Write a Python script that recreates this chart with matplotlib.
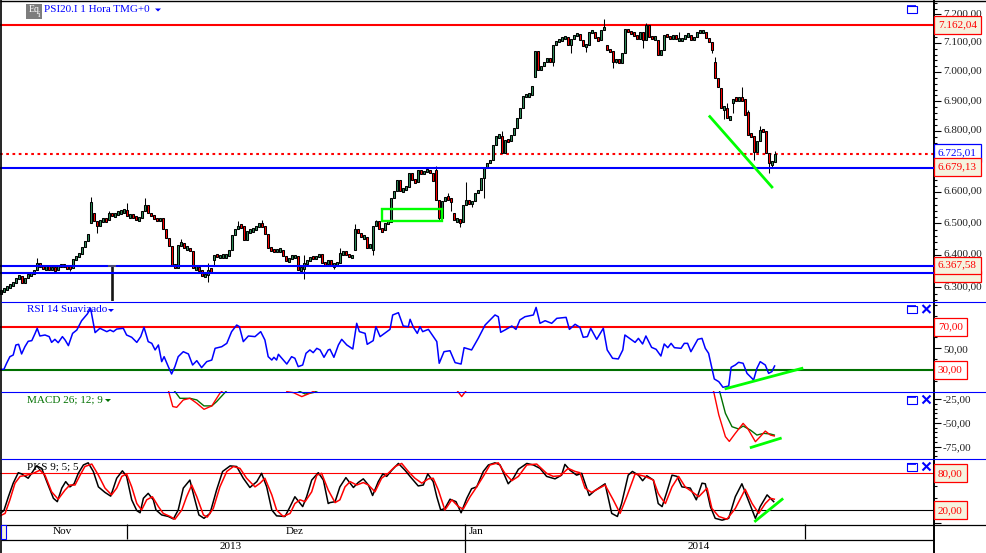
#!/usr/bin/env python3
import matplotlib
matplotlib.use("Agg")
import matplotlib.pyplot as plt
import numpy as np
from matplotlib.lines import Line2D
from matplotlib.patches import Polygon, Rectangle
from matplotlib.ticker import FixedLocator, NullFormatter
from matplotlib.transforms import ScaledTranslation

W, H = 987, 553
AXIS_X = 934

# hourly closes
closes = [
    6288, 6293, 6301, 6308, 6313, 6329, 6334, 6313, 6329, 6339,
    6342, 6355, 6375, 6365, 6360, 6362, 6357, 6360, 6355, 6365,
    6370, 6365, 6363, 6360, 6388, 6396, 6404, 6426, 6444, 6465,
    6568, 6507, 6491, 6512, 6512, 6510, 6534, 6523, 6531, 6534,
    6537, 6544, 6523, 6525, 6521, 6512, 6518, 6539, 6560, 6534,
    6523, 6518, 6507, 6518, 6481, 6454, 6428, 6370, 6360, 6433,
    6438, 6423, 6423, 6412, 6360, 6360, 6355, 6334, 6339, 6355,
    6350, 6402, 6396, 6396, 6398, 6398, 6417, 6462, 6481, 6493,
    6491, 6447, 6475, 6475, 6481, 6491, 6497, 6491, 6465, 6423,
    6417, 6412, 6417, 6417, 6396, 6381, 6391, 6396, 6396, 6355,
    6357, 6375, 6381, 6394, 6391, 6394, 6404, 6375, 6373, 6386,
    6370, 6370, 6375, 6407, 6409, 6402, 6396, 6396, 6481, 6470,
    6457, 6457, 6423, 6433, 6491, 6507, 6481, 6479, 6502, 6504,
    6581, 6603, 6641, 6603, 6611, 6617, 6662, 6641, 6632, 6673,
    6660, 6668, 6673, 6662, 6635, 6576, 6518, 6571, 6584, 6578,
    6571, 6510, 6510, 6504, 6560, 6576, 6563, 6571, 6597, 6608,
    6646, 6679, 6695, 6706, 6756, 6785, 6785, 6728, 6772, 6767,
    6789, 6811, 6844, 6877, 6919, 6922, 6922, 6951, 7071, 7008,
    7019, 7036, 7048, 7036, 7094, 7105, 7111, 7117, 7120, 7094,
    7113, 7128, 7131, 7111, 7090, 7094, 7140, 7140, 7117, 7111,
    7146, 7157, 7076, 7071, 7036, 7044, 7030, 7065, 7148, 7140,
    7134, 7128, 7113, 7140, 7111, 7163, 7122, 7117, 7117, 7059,
    7076, 7128, 7125, 7113, 7128, 7113, 7113, 7113, 7128, 7128,
    7111, 7120, 7140, 7140, 7140, 7117, 7105, 7076, 6978, 6950,
    6877, 6877, 6844, 6844, 6908, 6907, 6910, 6907, 6855, 6789,
    6785, 6730, 6767, 6805, 6800, 6728, 6695, 6697, 6725,
]
# bars that open away from the previous close
gap_opens = {
    30: 6500, 31: 6534, 71: 6386, 118: 6417, 124: 6417, 145: 6673, 151: 6533,
    178: 6983, 202: 7094, 219: 7111, 238: 7036, 240: 6944, 244: 6893, 249: 6866,
}
wick_highs = {
    12: 6391, 30: 6584, 36: 6539, 42: 6565, 48: 6581, 60: 6451, 69: 6375, 79: 6507,
    87: 6510, 101: 6402, 113: 6423, 118: 6497, 125: 6512, 145: 6686, 149: 6597,
    155: 6632, 167: 6800, 201: 7185, 215: 7170, 226: 7140, 238: 7050, 242: 6893,
    247: 6950, 249: 6870, 253: 6816, 258: 6735,
}
wick_lows = {
    23: 6350, 32: 6470, 69: 6316, 71: 6370, 101: 6326, 111: 6357, 124: 6402,
    146: 6512, 150: 6540, 153: 6488, 157: 6554, 161: 6583, 184: 7019, 190: 7067,
    195: 7070, 204: 7013, 205: 7030, 214: 7082, 219: 7059, 220: 7059, 237: 7067,
    241: 6841, 244: 6860, 251: 6706, 256: 6662, 257: 6679,
}

resistance = 7162.04
last_price = 6725.01
support_mid = 6679.13
support_low = 6367.58
support_floor = 6345

# 6.700 sits behind the value boxes, so the reference shows no label for it
price_ticks = [7200, 7100, 7000, 6900, 6800, 6600, 6500, 6400, 6300]
price_labels = ["7.200,00", "7.100,00", "7.000,00", "6.900,00", "6.800,00",
                "6.600,00", "6.500,00", "6.400,00", "6.300,00"]

rsi_points = [
    (0, 30.6), (1.3, 30.6), (2.2, 36.2), (3.3, 42.3), (4.4, 43.8), (5.3, 53.1), (6.2, 53.7), (7.2, 44.8),
    (8.3, 51.5), (9.4, 56.5), (10.6, 57.1), (11.7, 63.8), (12.4, 68.5), (13.3, 61.4), (15, 62.3), (16.4, 60.8),
    (17.2, 55.5), (18.3, 58.3), (19.4, 55.2), (20.8, 60.8), (21.7, 57.7), (22.8, 52.5), (24.2, 63.8), (25.6, 66.9),
    (27.2, 75.5), (29.1, 81.7), (30.2, 86.9), (31.7, 64.5), (33.3, 68.5), (35.6, 65.4), (36.7, 66.9), (37.8, 65.4),
    (38.9, 67.8), (41.1, 68.5), (42.2, 62.3), (43.9, 60.2), (45.6, 55.5), (46.9, 60.8), (48, 69.4), (49.4, 56.2),
    (50.6, 54.6), (51.7, 48.5), (52.8, 53.1), (53.9, 37.7), (54.7, 42.3), (56.1, 33.1), (57.2, 26.3), (58.3, 33.1),
    (59.4, 42.3), (61.1, 46.9), (62.8, 44.8), (64.2, 34.6), (65.6, 38.6), (67.2, 32.2), (68.9, 37.7), (70.6, 39.2),
    (71.7, 50), (73.9, 51.5), (75.6, 54.6), (77.2, 65.4), (78.9, 71.5), (79.8, 70), (81.1, 56.2), (82.8, 61.4),
    (85, 60.8), (86.9, 65.4), (88.3, 57.7), (89.4, 42.3), (90.6, 39.2), (91.3, 41.7), (92.2, 39.2), (92.8, 44.5),
    (95.6, 35.5), (97.2, 42.3), (98.3, 40.8), (99.4, 33.1), (100.9, 34.6), (102, 45.4), (103.3, 48.5), (104.4, 46),
    (105.6, 50), (106.7, 48.5), (108, 41.7), (109.4, 48.5),
    (110, 49.1), (111.3, 41.7), (112.8, 53.1), (113.9, 58.3), (115.6, 53.1), (117.6, 49.4), (118.9, 73.1), (119.8, 65.4),
    (121.7, 63.8), (122.4, 53.7), (124.4, 57.1), (125.3, 70), (126.7, 60.8), (130, 67.5), (130.9, 80.8), (132.8, 82.9),
    (134.4, 70.6), (136.1, 70), (136.7, 76.8), (137.8, 69.4), (139.1, 63.8), (140, 70), (140.9, 65.4), (142.8, 67.5),
    (145.6, 56.2), (146.4, 36.2), (148, 46.9), (150, 47.8), (151.7, 36.8), (153.7, 35.5), (154.7, 50.6), (157.2, 48.5),
    (159.4, 59.2), (161.7, 71.5), (165, 80.8), (166.1, 79.2), (166.9, 64.8), (168.3, 66.9), (170.6, 70.6), (172, 67.5),
    (173.3, 76.2), (175, 79.2), (177.8, 80.8), (178.7, 87.8), (180, 73.1), (181.7, 75.5), (183.9, 73.1), (185.6, 77.7),
    (188.7, 78.6), (189.8, 67.5), (191.7, 72.2), (193.3, 69.4), (194.4, 60.2), (195.8, 60.8), (196.9, 68.5), (198.9, 58.3),
    (201.1, 68.5), (202.4, 48.5), (204.2, 40.8), (206.1, 40.2), (207.6, 48.5), (208.3, 62.3), (211.7, 55.5), (212.8, 59.2),
    (214.2, 54), (215.3, 61.4), (217.2, 50.9), (218.7, 49.1),
    (220.3, 42.9), (221.4, 54), (222.6, 50.6), (223.7, 54.6), (224.8, 50.6), (227, 50), (228.1, 54.6), (229.2, 54.6),
    (230.3, 46.9), (232.6, 58.3), (234, 59.2), (235.1, 50), (236.2, 45.4), (237.3, 31.5), (238.1, 21.7), (239.6, 19.2),
    (241, 14), (242.9, 15.2), (243.7, 32.5), (245.1, 34.6), (246.2, 37.1), (247.7, 36.2), (249, 26.9), (251.2, 20.8),
    (252.3, 31.5), (253.4, 37.7), (255.1, 34.6), (256.2, 26.9), (257.3, 28.5), (258.2, 33.7),
]

# the MACD pair leaves the top of its pane, so the lines come in pieces
macd_pieces = [
    [(55.8, -12), (57.6, -32.7), (58.9, -33.5), (61.1, -25.7), (63.3, -24), (65.6, -29.2), (68, -35.6),
     (70.6, -32), (73.3, -18.7), (74.2, -15.8)],
    [(95.6, -17), (97.8, -18), (100.6, -22.2), (103.3, -18.7), (105, -15.8)],
    [(152.2, -15), (153.9, -22.2), (155.6, -15)],
    [(237.3, -12), (237.9, -17), (239.6, -41.5), (241.8, -64.4), (243.1, -69.4), (245.1, -60.9), (247.7, -50.4),
     (249.2, -55.6), (251.8, -69.7), (253.4, -64.4), (255.1, -58.5), (256.8, -62.7), (258.1, -63.7)],
]
signal_pieces = [
    [(58.1, -16), (60, -24), (63.3, -24), (65.6, -25.7), (68, -32), (70.6, -32), (72.2, -27.5), (75.6, -15.8)],
    [(99.4, -16), (101.7, -19.4), (104.4, -18), (106.1, -15.5)],
    [(239.3, -12), (239.9, -17), (241.8, -39.8), (244, -53.9), (246.2, -56.3), (247.7, -53.2), (250.1, -57.4),
     (252.3, -62.7), (254.6, -60.9), (256.8, -61.6), (258.1, -62.7)],
]

pks_k_points = [
    (0, 15), (1.3, 19.5), (2.8, 42), (4.4, 64), (6.1, 81), (7.2, 79), (9.4, 72), (11.1, 84), (12.2, 92), (13.9, 88),
    (15.6, 66.5), (17.8, 39.5), (19.1, 34), (20.6, 56), (21.9, 66.5), (23.3, 58), (24.7, 63), (26.1, 80), (27.8, 93.5),
    (29.4, 97), (31.1, 83), (32.8, 58), (35, 49), (36.9, 43), (38.9, 72), (40.8, 84), (42.2, 75), (43.9, 37), (45.6, 19.5),
    (46.7, 16), (47.8, 39.5), (49.4, 47.5), (51.1, 37), (52, 20.5), (53.9, 12.5), (56.1, 10), (57.8, 6), (59.4, 20.5),
    (61.1, 56), (63.3, 69), (64.7, 42), (66.3, 12.5), (68, 7), (70, 15), (72.2, 53), (74.2, 83), (76.7, 92), (78.9, 91),
    (81.1, 72), (83.3, 57), (85.6, 66.5), (87.2, 80), (88.9, 58), (90.6, 20.5), (92.2, 11), (95, 10), (96.7, 26), (98.3, 42),
    (100.9, 26), (102.2, 42), (103.9, 69), (106.1, 81), (107.8, 69), (109.4, 31),
    (110, 32.5), (111.7, 34), (113.3, 58), (115.3, 73), (117.8, 57), (119.4, 65), (121.1, 71), (122.8, 61), (124.2, 44),
    (126.1, 66.5), (127.6, 79), (128.9, 75), (130.6, 85), (132.8, 96), (135, 85), (137.2, 72), (139.4, 59.5), (141.1, 61),
    (142.6, 79), (144.4, 66.5), (145.6, 42), (146.9, 20.5), (148.3, 23), (150, 38), (152, 34), (153.7, 16), (155.6, 39.5),
    (157.2, 55), (158.9, 58), (161.1, 83), (162.8, 93.5), (165, 97), (166.7, 93.5), (169.4, 63), (171.1, 72), (172.8, 86.5),
    (175.6, 96), (177.8, 93.5), (180, 88), (182.2, 75), (185, 71), (187.2, 77), (188.3, 94.5), (190, 85), (192.2, 77),
    (193.9, 80), (196.4, 44), (198.3, 52), (201.7, 63), (203.9, 15), (205.8, 10), (207.2, 31), (209.4, 77), (210.8, 83),
    (212.8, 77), (214.2, 68), (215.6, 76), (217.8, 69), (219.4, 31),
    (220.7, 26), (222.3, 50), (224, 77), (225.7, 75), (227.3, 58), (230.1, 56), (232.1, 37), (234, 64), (235.1, 63),
    (236.8, 26), (238.4, 7), (240.7, 4), (242.9, 7), (245.1, 42), (247.3, 63), (249, 42), (251.8, 7), (253.4, 26),
    (255.7, 45), (257.9, 34),
]
pks_d_points = [
    (0, 11), (1.7, 15), (3.3, 37), (5, 64), (6.7, 75), (8.9, 77), (11.1, 80), (13.3, 85), (15, 77), (17.2, 50), (19.4, 38),
    (21.7, 53), (23.3, 61), (25, 61), (26.7, 77), (28.3, 91), (30.6, 95), (32.8, 77), (35, 56), (37.2, 45), (38.9, 56),
    (40.6, 75), (42.2, 79), (43.9, 58), (45.6, 31), (47.2, 20.5), (48.9, 37), (50.8, 42), (52.8, 26), (54.4, 15), (56.7, 10),
    (58.3, 5.5), (60.6, 20.5), (62.2, 42), (63.9, 61), (65.6, 42), (67.8, 12.5), (69.1, 9), (71.1, 23), (73.3, 58), (75.6, 83),
    (77.8, 91), (80, 88), (82.2, 72), (85, 58), (86.7, 64), (88.3, 72), (90.6, 45), (92.2, 20.5), (94.4, 10), (96.7, 15),
    (98.3, 31), (100, 37), (101.7, 34), (103.9, 50), (105.6, 77), (107.2, 80), (109.4, 53),
    (110, 47.5), (111.7, 32.5), (113.3, 37), (115, 58), (116.7, 66.5), (118.9, 61), (121.1, 65), (122.8, 61), (125, 50),
    (127.2, 72), (129.4, 80), (131.7, 91), (133.9, 96), (136.1, 83), (138.3, 72), (140.6, 64), (142.8, 71), (144.4, 72),
    (146.1, 53), (148.3, 20.5), (150.6, 37), (152.8, 26), (154.4, 22), (156.7, 42), (158.9, 58), (161.1, 75), (163.3, 93.5),
    (166.1, 97), (168.3, 80), (170.6, 68), (172.8, 75), (175.6, 93.5), (178.9, 95), (182.2, 80), (184.4, 75), (186.7, 76),
    (189.4, 88), (191.7, 83), (193.3, 81), (195, 56), (197.2, 49), (201.7, 61), (204.4, 37), (206.7, 15), (208.9, 42),
    (211.7, 79), (215, 75), (217.8, 69), (219.4, 47.5),
    (220.1, 42), (221.8, 31), (224, 58), (226.2, 75), (228.4, 58), (230.7, 50), (232.9, 42), (235.7, 56), (237.3, 23),
    (239.6, 10), (242.3, 5.5), (245.1, 23), (248.4, 54), (250.7, 31), (252.9, 15), (255.1, 31), (256.8, 39.5), (258.1, 38),
]

# hand-drawn annotations, in bar / value units
price_box = [(127.2, 6509), (147.3, 6546)]
price_trend = [(236.6, 6849), (257.3, 6617)]
rsi_trend = [(242, 12.8), (267.3, 31.5)]
macd_trend = [(250.4, -75.7), (260.1, -66.2)]
pks_trend = [(251.8, 2.7), (260.7, 37.8)]

month_labels = ["Nov", "Dez", "Jan"]
year_labels = ["2013", "2014"]

BLUE = "#0000ff"
RED = "#ff0000"
LIME = "#00ff00"
DARK_GREEN = "#007000"
CANDLE_GREEN = "#2e8b57"
CREAM = "#f5f3df"
FONT = "Liberation Serif"
MIN_BODY = 12  # thinnest candle body, in index points

plt.rcParams["font.family"] = FONT
plt.rcParams["font.size"] = 8

fig = plt.figure(figsize=(W / 100, H / 100), dpi=100, facecolor="white")


def fx(x):
    return x / W


def fy(y):
    return 1 - y / H


def add_line(x0, y0, x1, y1, color="black", lw=0.8):
    fig.add_artist(Line2D([fx(x0), fx(x1)], [fy(y0), fy(y1)], color=color, lw=lw, zorder=6,
                          transform=fig.transFigure, solid_capstyle="butt"))


def add_text(x, y, s, color="black", ha="left", size=8):
    fig.text(fx(x), fy(y), s, color=color, ha=ha, va="center", size=size, zorder=9)


def add_triangle(x, y, color):
    fig.add_artist(Polygon([(fx(x - 3), fy(y - 1.5)), (fx(x + 3), fy(y - 1.5)), (fx(x), fy(y + 1.5))],
                           closed=True, facecolor=color, edgecolor="none", transform=fig.transFigure, zorder=9))


def add_pane(top, bottom, ylim):
    ax = fig.add_axes([0, fy(bottom), AXIS_X / W, (bottom - top) / H])
    ax.set_xlim(0, AXIS_X / 3)
    ax.patch.set_alpha(0)
    for side in ["top", "left", "bottom"]:
        ax.spines[side].set_visible(False)
    ax.spines["right"].set_linewidth(1.4)
    ax.set_xticks([])
    ax.yaxis.tick_right()
    ax.tick_params(axis="y", which="major", length=5, width=0.8, pad=1.5, labelsize=8, labelcolor="#202020")
    ax.tick_params(axis="y", which="minor", length=2.5, width=0.8)
    ax.set_ylim(*ylim)
    return ax


def value_box(ax, value, text, edge, face, right=981, half_up=9, half_down=9, zorder=7):
    # label box on the right axis, pinned to the value it names
    y = H - ax.transData.transform((0, value))[1]
    fig.add_artist(Rectangle((fx(AXIS_X), fy(y + half_down)), (right - AXIS_X) / W, (half_up + half_down) / H,
                             facecolor=face, edgecolor=edge, lw=0.9, transform=fig.transFigure, zorder=zorder))
    if text:
        fig.text(fx(AXIS_X + 4), fy(y + (half_down - half_up) / 2), text, color=edge, ha="left", va="center",
                 size=8, zorder=zorder + 0.5)


def window_icon(top, close_button=True):
    fig.add_artist(Rectangle((fx(906.5), fy(top + 8)), 10 / W, 7.5 / H, facecolor="none", edgecolor=BLUE,
                             lw=0.8, transform=fig.transFigure, zorder=8))
    add_line(906.5, top + 1, 916.5, top + 1, BLUE, 1.2)
    if close_button:
        add_line(922.5, top, 930.5, top + 8, BLUE, 1.5)
        add_line(922.5, top + 8, 930.5, top, BLUE, 1.5)


# price pane
ax_price = add_pane(0, 301, (6258, 7251))
ax_price.set_yscale("log")
ax_price.set_ylim(6258, 7251)
ax_price.yaxis.set_major_locator(FixedLocator(price_ticks))
ax_price.yaxis.set_major_formatter(plt.FixedFormatter(price_labels))
ax_price.yaxis.set_minor_locator(FixedLocator(np.arange(6260, 7250, 20)))
ax_price.yaxis.set_minor_formatter(NullFormatter())
# price labels sit a little above their ticks in the reference
label_shift = ScaledTranslation(0, 2 / 100, fig.dpi_scale_trans)
for tick_label in ax_price.get_yticklabels():
    tick_label.set_transform(tick_label.get_transform() + label_shift)

ax_price.axhline(resistance, color=RED, lw=1.5, zorder=1)
ax_price.axhline(last_price, color=RED, lw=1.5, ls=(0, (1.3, 1.7)), zorder=1)
for level in [support_mid, support_low, support_floor]:
    ax_price.axhline(level, color=BLUE, lw=1.5, zorder=4)

n_bars = len(closes)
bars_x = np.arange(n_bars) + 0.33
opens = np.array([gap_opens.get(i, closes[i - 1] if i else closes[0] - 5) for i in range(n_bars)], dtype=float)
closes_arr = np.array(closes, dtype=float)
up = closes_arr >= opens

# keep flat bars readable: the reference never shows a body thinner than a few pixels
body_low = np.minimum(opens, closes_arr)
body_high = np.maximum(opens, closes_arr)
thin = body_high - body_low < MIN_BODY
body_mid = (body_low + body_high) / 2
body_low[thin] = body_mid[thin] - MIN_BODY / 2
body_high[thin] = body_mid[thin] + MIN_BODY / 2

for i in range(n_bars):
    hi = wick_highs.get(i)
    lo = wick_lows.get(i)
    ax_price.vlines(bars_x[i], lo if lo else body_low[i], hi if hi else body_high[i], color="black", lw=0.75, zorder=2)

ax_price.bar(bars_x, body_high - body_low, bottom=body_low, width=0.68,
             color=[CANDLE_GREEN if u else RED for u in up], edgecolor="black", linewidth=0.75, zorder=3)

# split marker under the early bars
ax_price.vlines(37.3, 6258, 6365, color="#151515", lw=1.9, zorder=3)
ax_price.hlines(6365, 36.1, 38.5, color="#606060", lw=1.2, zorder=5)

(x0, y0), (x1, y1) = price_box
ax_price.add_patch(Rectangle((x0, y0), x1 - x0, y1 - y0, facecolor="none", edgecolor=LIME, lw=1.7, zorder=5))
ax_price.plot(*zip(*price_trend), color=LIME, lw=2, zorder=5)

# RSI pane
ax_rsi = add_pane(301, 391, (10.6, 93.7))
ax_rsi.yaxis.set_major_locator(FixedLocator([50]))
ax_rsi.yaxis.set_major_formatter(plt.FixedFormatter(["50,00"]))
ax_rsi.yaxis.set_minor_locator(FixedLocator([20, 30, 40, 60, 70, 80, 90]))
ax_rsi.axhline(70, color=RED, lw=1.5, zorder=1)
ax_rsi.axhline(30, color=DARK_GREEN, lw=1.5, zorder=1)
ax_rsi.plot(*zip(*rsi_points), color=BLUE, lw=1.1, zorder=3)
ax_rsi.plot(*zip(*rsi_trend), color=LIME, lw=2, zorder=4)

# MACD pane
ax_macd = add_pane(391, 458.5, (-87.4, -16.3))
ax_macd.yaxis.set_major_locator(FixedLocator([-25, -50, -75]))
ax_macd.yaxis.set_major_formatter(plt.FixedFormatter(["-25,00", "-50,00", "-75,00"]))
ax_macd.yaxis.set_minor_locator(FixedLocator(np.arange(-85, -20, 5)))
for piece in signal_pieces:
    ax_macd.plot(*zip(*piece), color=DARK_GREEN, lw=1.0, zorder=2)
for piece in macd_pieces:
    ax_macd.plot(*zip(*piece), color=RED, lw=1.0, zorder=3)
ax_macd.plot(*zip(*macd_trend), color=LIME, lw=2, zorder=4)

# PKS pane
ax_pks = add_pane(458.5, 524, (-2.2, 104))
ax_pks.yaxis.set_major_locator(FixedLocator([0]))
ax_pks.yaxis.set_major_formatter(NullFormatter())
ax_pks.yaxis.set_minor_locator(FixedLocator([40, 60]))
ax_pks.axhline(80, color=RED, lw=0.8, zorder=1)
ax_pks.axhline(20, color="black", lw=0.8, zorder=1)
ax_pks.plot(*zip(*pks_k_points), color="black", lw=1.1, zorder=2)
ax_pks.plot(*zip(*pks_d_points), color=RED, lw=1.1, zorder=3)
ax_pks.plot(*zip(*pks_trend), color=LIME, lw=2, zorder=4)

# frame and pane separators
add_line(0, 0.5, W, 0.5, "black", 1.0)
add_line(1.2, 0, 1.2, H, "black", 1.2)
add_line(AXIS_X, 524, AXIS_X, H, "black", 1.4)
for y in [301.5, 391.5, 458.5]:
    add_line(1, y, W, y, BLUE, 0.8)

# time axis
add_line(1, 524.5, W, 524.5, "black", 0.9)
add_line(1, 539.5, AXIS_X, 539.5, "black", 0.9)
add_line(126.7, 524, 126.7, 539, "black", 0.9)
add_line(465.5, 524, 465.5, H, "black", 0.9)
add_line(804.7, 524, 804.7, 539, "black", 0.9)
fig.add_artist(Rectangle((fx(1.5), fy(539)), 4 / W, 14.5 / H, facecolor=CREAM, edgecolor=BLUE, lw=0.8,
                         transform=fig.transFigure, zorder=7))
add_text(62, 531.5, month_labels[0], ha="center")
add_text(295, 531.5, month_labels[1], ha="center")
add_text(476, 531.5, month_labels[2], ha="center")
add_text(231, 546.5, year_labels[0], ha="center")
add_text(698.5, 546.5, year_labels[1], ha="center")

# value boxes on the right axis
value_box(ax_price, resistance, "7.162,04", RED, CREAM)
value_box(ax_price, last_price, "6.725,01", BLUE, "white", half_up=10, half_down=8)
value_box(ax_price, support_mid, "6.679,13", RED, CREAM, half_up=10, half_down=8)
value_box(ax_price, support_floor, "", RED, CREAM, half_up=2, half_down=9)
value_box(ax_price, support_low, "6.367,58", RED, CREAM, half_up=9, half_down=8, zorder=7.5)
value_box(ax_rsi, 70, "70,00", RED, "white", right=967)
value_box(ax_rsi, 30, "30,00", RED, "white", right=967)
value_box(ax_pks, 80, "80,00", RED, CREAM, right=967)
value_box(ax_pks, 20, "20,00", RED, CREAM, right=967)

# pane headers
fig.add_artist(Rectangle((fx(26), fy(18.5)), 16 / W, 15 / H, facecolor="#7d7d7d", edgecolor="none",
                         transform=fig.transFigure, zorder=8))
add_text(29, 10, "Eq", color="white", size=7)
add_text(38, 15, "i", color="white", size=6)
add_text(44, 10, "PSI20.I 1 Hora TMG+0", color=BLUE)
add_triangle(158, 10, BLUE)
add_text(27, 310, "RSI 14 Suavizado", color=BLUE)
add_triangle(111, 310.5, BLUE)
add_text(27, 400, "MACD 26; 12; 9", color=DARK_GREEN)
add_triangle(108, 400.5, DARK_GREEN)
add_text(27, 467, "PKS 9; 5; 5", color="black")

window_icon(5, close_button=False)
window_icon(305)
window_icon(395.5)
window_icon(462.5)

fig.savefig("out.png", dpi=100, facecolor="white")
